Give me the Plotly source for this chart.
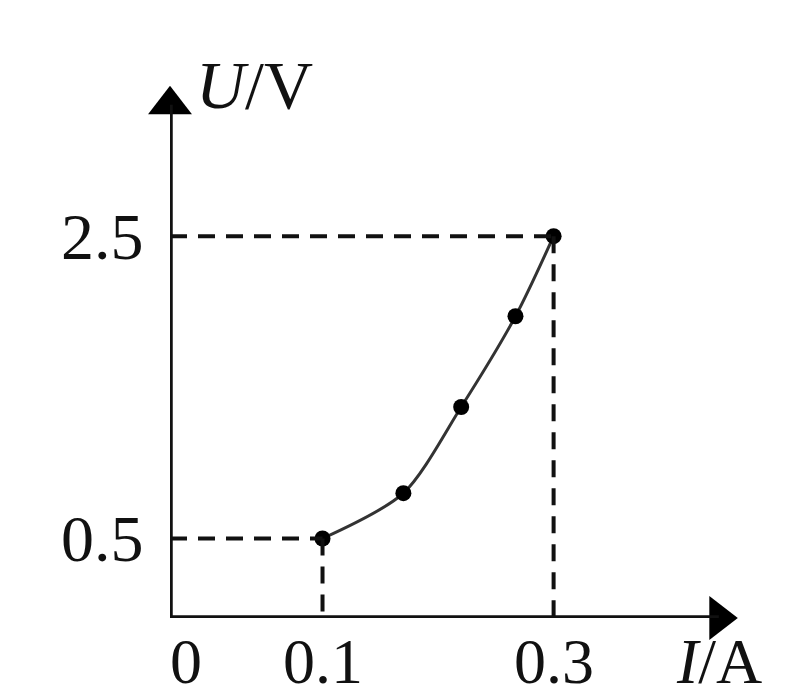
import plotly.graph_objects as go

# Measured current I (A) and voltage U (V)
current = [0.10, 0.170, 0.220, 0.267, 0.30]
voltage = [0.50, 0.80, 1.37, 1.97, 2.50]

x_ticks = [0.1, 0.3]
x_tick_text = ["0.1", "0.3"]
y_ticks = [0.5, 2.5]
y_tick_text = ["0.5", "2.5"]

X0, X1 = -0.032, 0.457
Y0, Y1 = -0.026, 3.50
INK = "#111111"
FONT = "Liberation Serif, Times New Roman, serif"

fig = go.Figure()

# dashed guides from the end points to both axes
for xv, yv in [(current[0], voltage[0]), (current[-1], voltage[-1])]:
    fig.add_shape(type="line", x0=X0, y0=yv, x1=xv, y1=yv,
                  line=dict(color=INK, width=4, dash="17px,11px"))
    fig.add_shape(type="line", x0=xv, y0=yv, x1=xv, y1=Y0,
                  line=dict(color=INK, width=4, dash="17px,11px"))

# axes with arrow heads
x_tip = 0.443
y_tip = 3.37
fig.add_shape(type="line", x0=X0, y0=Y0, x1=x_tip, y1=Y0, line=dict(color=INK, width=5.5))
fig.add_shape(type="line", x0=X0, y0=Y0, x1=X0, y1=y_tip, line=dict(color=INK, width=5.5))
fig.add_trace(go.Scatter(x=[x_tip], y=[Y0], mode="markers",
                         marker=dict(symbol="triangle-right", size=38, color="black"),
                         hoverinfo="skip", showlegend=False, cliponaxis=False))
fig.add_trace(go.Scatter(x=[X0], y=[y_tip], mode="markers",
                         marker=dict(symbol="triangle-up", size=38, color="black"),
                         hoverinfo="skip", showlegend=False, cliponaxis=False))

# fitted curve and measured points
fig.add_trace(go.Scatter(x=current, y=voltage, mode="lines",
                         line=dict(color="#333333", width=3, shape="spline", smoothing=0.8),
                         hoverinfo="skip", showlegend=False))
fig.add_trace(go.Scatter(x=current, y=voltage, mode="markers",
                         marker=dict(color="black", size=16),
                         showlegend=False, cliponaxis=False))

# tick labels
for xv, t in zip(x_ticks, x_tick_text):
    fig.add_annotation(x=xv, y=Y0, yref="y", xref="x", text=t, showarrow=False,
                       yanchor="top", yshift=-6, font=dict(family=FONT, size=64, color=INK))
fig.add_annotation(x=X0, y=Y0, text="0", showarrow=False, xanchor="center", yanchor="top",
                   xshift=16, yshift=-6, font=dict(family=FONT, size=64, color=INK))
for yv, t in zip(y_ticks, y_tick_text):
    fig.add_annotation(x=X0, y=yv, text=t, showarrow=False, xanchor="right",
                       xshift=-24, font=dict(family=FONT, size=66, color=INK))

# axis titles
fig.add_annotation(x=X0, y=y_tip, text="<i>U</i>/V", showarrow=False, xanchor="left",
                   yanchor="bottom", xshift=24, yshift=-20,
                   font=dict(family=FONT, size=68, color=INK))
fig.add_annotation(x=x_tip, y=Y0, text="<i>I</i>/A", showarrow=False, xanchor="center",
                   yanchor="top", xshift=0, yshift=-6,
                   font=dict(family=FONT, size=64, color=INK))

fig.update_xaxes(range=[X0, X1], visible=False, fixedrange=True)
fig.update_yaxes(range=[Y0, Y1], visible=False, fixedrange=True)
fig.update_layout(width=804, height=684, margin=dict(l=170, r=69, t=85, b=66),
                  plot_bgcolor="white", paper_bgcolor="white")

fig.write_html("out.html")
